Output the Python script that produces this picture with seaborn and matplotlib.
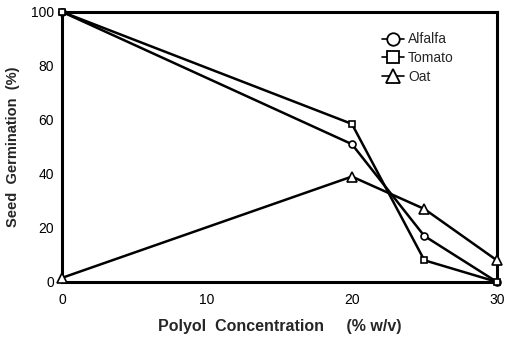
import matplotlib
matplotlib.use("Agg")
import matplotlib.pyplot as plt
import seaborn as sns
import pandas as pd
from matplotlib.ticker import MultipleLocator

conc = [0, 20, 25, 30]
alfalfa = [100, 51, 17, 0]
tomato = [100, 58.5, 8, 0]
oat = [1.5, 39, 27, 8]
series_names = ["Alfalfa", "Tomato", "Oat"]

df = pd.DataFrame({
    "conc": conc * 3,
    "germ": alfalfa + tomato + oat,
    "crop": [n for n in series_names for _ in conc],
})

sns.set_theme(style="white")
plt.rcParams['font.family'] = ['Liberation Sans', 'DejaVu Sans']

fig = plt.figure(figsize=(5.09, 3.40), dpi=100)
ax = fig.add_axes([0.122, 0.171, 0.854, 0.794])

markers = {"Alfalfa": "o", "Tomato": "s", "Oat": "^"}
sizes = {"Alfalfa": 5, "Tomato": 5, "Oat": 7}
for name in series_names:
    sub = df[df.crop == name]
    sns.lineplot(data=sub, x="conc", y="germ", ax=ax, color="black", lw=1.8,
                 marker=markers[name], markersize=sizes[name], markerfacecolor="white",
                 markeredgecolor="black", markeredgewidth=1.2, label=name,
                 clip_on=False, zorder=3)

ax.set_xlim(0, 30)
ax.set_ylim(0, 100)
ax.xaxis.set_major_locator(MultipleLocator(10))
ax.xaxis.set_minor_locator(MultipleLocator(2.5))
ax.yaxis.set_major_locator(MultipleLocator(20))
ax.yaxis.set_minor_locator(MultipleLocator(10))
ax.tick_params(which="both", direction="in", top=False, right=False, colors="black",
               labelsize=10)
ax.tick_params(which="major", length=5, width=1.2)
ax.tick_params(which="minor", length=3, width=1)
ax.tick_params(axis="x", pad=8)
ax.tick_params(axis="y", pad=6)
for sp in ax.spines.values():
    sp.set_color("black")
    sp.set_linewidth(2.2)

ax.set_xlabel("Polyol  Concentration     (% w/v)", fontsize=11.5, fontweight="bold", labelpad=9)
ax.set_ylabel("Seed  Germination  (%)", fontsize=10.5, fontweight="bold", labelpad=8)

leg = ax.legend(loc="upper right", bbox_to_anchor=(0.93, 0.97), frameon=False,
                fontsize=10, handlelength=1.6, handletextpad=0.3, labelspacing=0.35)
for h, name in zip(leg.legend_handles, series_names):
    h.set_linewidth(1.2)
    h.set_markersize(9 if name != "Oat" else 10)
    h.set_markeredgewidth(1.3)

fig.savefig("out.png", dpi=100)
